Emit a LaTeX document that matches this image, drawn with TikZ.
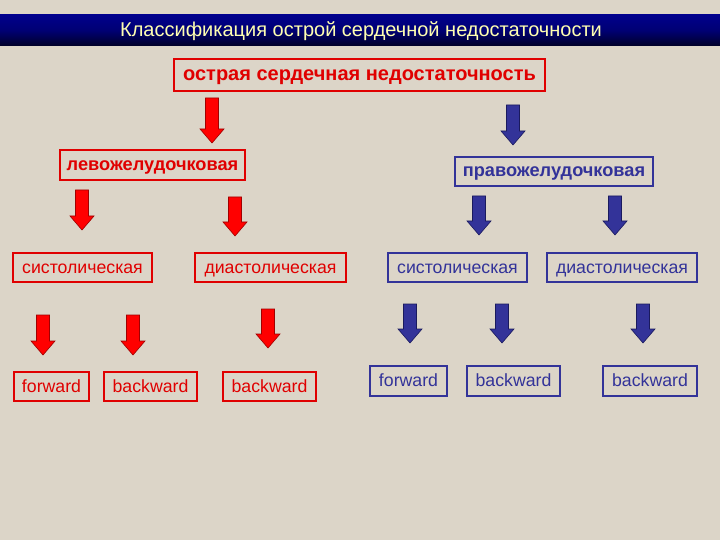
\documentclass[tikz,border=0pt]{standalone}
\usepackage{fontspec}
\setmainfont{Liberation Sans}
\definecolor{bg}{HTML}{DCD5C8}
\definecolor{rd}{HTML}{E00000}
\definecolor{rdark}{HTML}{A00000}
\definecolor{bl}{HTML}{333399}
\definecolor{bdark}{HTML}{1A1A5E}
\definecolor{titletxt}{HTML}{FFFFB0}
\tikzset{
  x=1pt, y=-1pt,
  boxbase/.style={line width=1.6pt, inner sep=0pt, text height=11pt, text depth=0pt, font=\fontsize{17.7}{19}\selectfont},
  redbox/.style={boxbase, draw=rd, text=rd},
  bluebox/.style={boxbase, draw=bl, text=bl},
  pics/downarr/.style={code={
    \path[pic actions] (-6.5,0) -- (6.5,0) -- (6.5,#1-14) -- (12,#1-14) -- (0,#1) -- (-12,#1-14) -- (-6.5,#1-14) -- cycle;}},
  redarr/.style={fill=red, draw=rdark, line width=0.6pt},
  bluearr/.style={fill=bl, draw=bdark, line width=0.6pt},
}
\begin{document}
\begin{tikzpicture}
\fill[bg] (0,0) rectangle (720,540);
\useasboundingbox (0,0) rectangle (720,540);
% title bar
\shade[top color=blue!55!black, bottom color=black!85!blue, middle color=blue!45!black] (0,15) rectangle (720,46);
\node[text=titletxt, font=\fontsize{20}{22}\selectfont] (title) at (361,31) {Классификация острой сердечной недостаточности};
% top box
\node[redbox, font=\bfseries\fontsize{20}{22}\selectfont, text height=12pt, minimum width=371pt, minimum height=32pt] (top) at (359.5,75) {острая сердечная недостаточность};
% level 2
\node[redbox, font=\bfseries\fontsize{18.2}{20}\selectfont, minimum width=185pt, minimum height=30pt] (lv) at (152.5,165) {левожелудочковая};
\node[bluebox, font=\bfseries\fontsize{18.2}{20}\selectfont, minimum width=198pt, minimum height=29pt] (rv) at (554,171.5) {правожелудочковая};
% level 3
\node[redbox, minimum width=139pt, minimum height=29pt] (lsys) at (82.5,267.5) {систолическая};
\node[redbox, minimum width=151pt, minimum height=29pt] (ldia) at (270.5,267.5) {диастолическая};
\node[bluebox, minimum width=139pt, minimum height=29pt] (rsys) at (457.5,267.5) {систолическая};
\node[bluebox, minimum width=150pt, minimum height=29pt] (rdia) at (622,267.5) {диастолическая};
% level 4
\node[redbox, minimum width=75pt, minimum height=29pt] (lf) at (51.5,386.5) {forward};
\node[redbox, minimum width=93pt, minimum height=29pt] (lb1) at (150.5,386.5) {backward};
\node[redbox, minimum width=93pt, minimum height=29pt] (lb2) at (269.5,386.5) {backward};
\node[bluebox, minimum width=77pt, minimum height=30pt] (rf) at (408.5,381) {forward};
\node[bluebox, minimum width=93pt, minimum height=30pt] (rb1) at (513.5,381) {backward};
\node[bluebox, minimum width=94pt, minimum height=30pt] (rb2) at (650,381) {backward};
% arrows
\coordinate (a1) at (212,98);  \pic[redarr] at (a1) {downarr=45};
\coordinate (a2) at (513,105); \pic[bluearr] at (a2) {downarr=40};
\coordinate (a3) at (82,190);  \pic[redarr] at (a3) {downarr=40};
\coordinate (a4) at (235,197); \pic[redarr] at (a4) {downarr=39};
\coordinate (a5) at (479,196); \pic[bluearr] at (a5) {downarr=39};
\coordinate (a6) at (615,196); \pic[bluearr] at (a6) {downarr=39};
\coordinate (a7) at (43,315);  \pic[redarr] at (a7) {downarr=40};
\coordinate (a8) at (133,315); \pic[redarr] at (a8) {downarr=40};
\coordinate (a9) at (268,309); \pic[redarr] at (a9) {downarr=39};
\coordinate (a10) at (410,304); \pic[bluearr] at (a10) {downarr=39};
\coordinate (a11) at (502,304); \pic[bluearr] at (a11) {downarr=39};
\coordinate (a12) at (643,304); \pic[bluearr] at (a12) {downarr=39};
\end{tikzpicture}
\end{document}
